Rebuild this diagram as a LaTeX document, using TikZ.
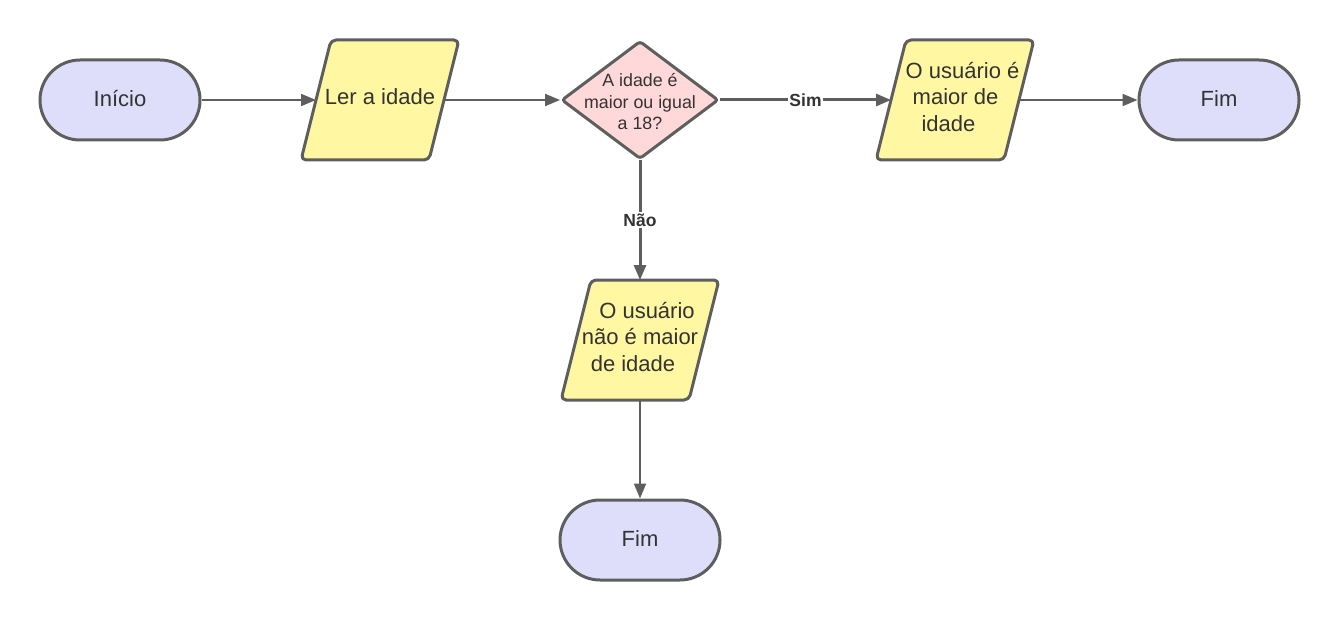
\documentclass[tikz,border=0pt]{standalone}
\usepackage{fontspec}
\setmainfont{Liberation Sans}
\usetikzlibrary{shapes.geometric,shapes.misc,arrows.meta,calc}
\definecolor{lav}{HTML}{DEDEFA}
\definecolor{yel}{HTML}{FFF7A1}
\definecolor{pnk}{HTML}{FFD9D9}
\definecolor{edgec}{HTML}{5E5E5E}
\definecolor{txt}{HTML}{333333}
\newcommand\myparabox[1]{%
  \draw[para] ($(#1.north west)+(15,0)$) -- ($(#1.north east)+(15,0)$) --
    ($(#1.south east)+(-15,0)$) -- ($(#1.south west)+(-15,0)$) -- cycle;}
\newcommand\myup[1]{\raisebox{2.5pt}{#1}}
\begin{document}
\begin{tikzpicture}[x=1pt,y=-1pt,
  term/.style={rounded rectangle, draw=edgec, fill=lav, line width=3pt,
    minimum width=160pt, minimum height=80pt, inner sep=0pt, text=txt,
    font=\fontsize{22}{26}\selectfont},
  iobox/.style={rectangle, minimum width=128pt, minimum height=120pt,
    inner sep=0pt, outer sep=0pt},
  iotext/.style={align=center, text=txt, inner sep=0pt,
    font=\fontsize{22}{26.5}\selectfont},
  dec/.style={diamond, draw=edgec, fill=pnk, line width=3pt,
    minimum width=157pt, minimum height=118pt, inner sep=0pt, rounded corners=3pt},
  dectext/.style={align=center, text=txt, inner sep=0pt,
    font=\fontsize{17.8}{21.5}\selectfont},
  para/.style={draw=edgec, fill=yel, line width=3pt, rounded corners=5pt, line join=round},
  flow/.style={draw=edgec, line width=2pt, -{Triangle[length=15pt,width=12pt]}},
  flowb/.style={flow, line width=3pt},
  lbl/.style={fill=white, inner sep=1.5pt, text=txt,
    font=\bfseries\fontsize{17.5}{19}\selectfont}
]
\useasboundingbox (0,0) rectangle (1340,620);

% terminals
\node[term] (start) at (120,100) {\myup{Início}};
\node[term] (fim1) at (1219,100) {\myup{Fim}};
\node[term] (fim2) at (640,540) {\myup{Fim}};

% input / output boxes
\node[iobox] (p1) at (380,100) {};
\myparabox{p1}
\node[iotext] (p1t) at (380,97) {Ler a idade};

\node[iobox] (p2) at (955,100) {};
\myparabox{p2}
\node[iotext] (p2t) at (955.5,97) {\hspace*{14pt}O usuário é\\maior de\\idade\hspace*{14pt}};

\node[iobox] (p3) at (640,340) {};
\myparabox{p3}
\node[iotext] (p3t) at (640,337) {\hspace*{14pt}O usuário\\não é maior\\de idade\hspace*{14pt}};

% decision
\node[dec] (d) at (640,100) {};
\node[dectext] (dt) at (640,102) {A idade é\\maior ou igual\\a 18?};

% connectors
\draw[flow] (start.east) -- (p1.west);
\draw[flow] (p1.east) -- (d.west);
\draw[flowb] (d.east) -- node[lbl] (sim) {Sim} (p2.west);
\draw[flow] (p2.east) -- (fim1.west);
\draw[flowb] (d.south) -- node[lbl] (nao) {Não} (p3.north);
\draw[flow] (p3.south) -- (fim2.north);
\end{tikzpicture}
\end{document}
